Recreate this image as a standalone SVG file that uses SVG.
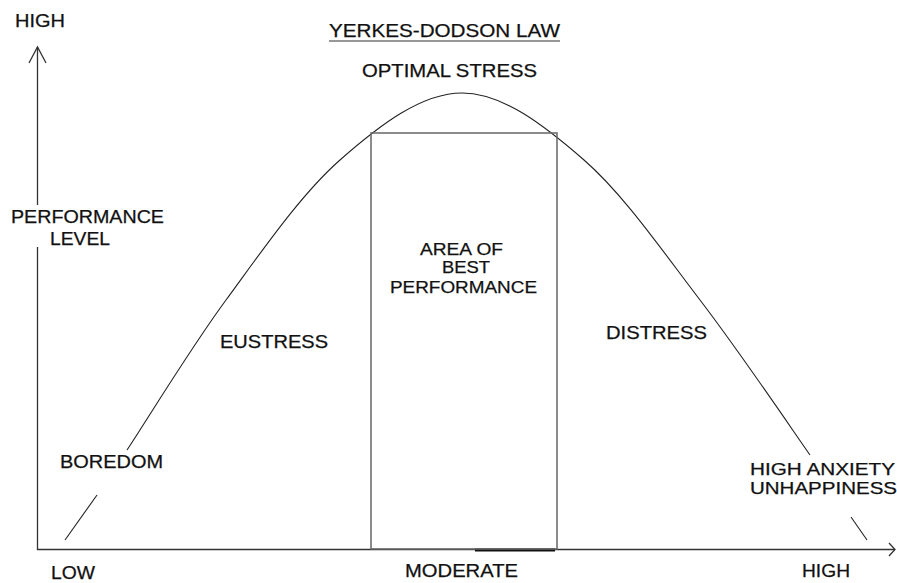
<svg xmlns="http://www.w3.org/2000/svg" width="897" height="583" viewBox="0 0 897 583">
<style>
text{font-family:"Liberation Sans",Arial,sans-serif;font-size:18px;fill:#111;stroke:#111;stroke-width:0.25}
text.s{font-size:16.5px}
.ax{stroke:#333;stroke-width:1.3;fill:none}
.cv{stroke:#222;stroke-width:1.1;fill:none}
.bx{stroke:#666;stroke-width:1.5;fill:none}
</style>
<rect width="897" height="583" fill="#fff"/>
<g id="connectors">
<path class="ax" d="M37.5,47 V205 M37.5,247 V549.5 H895"/>
<path class="ax" d="M29,63 L37.5,47 L46,63"/>
<path class="ax" d="M889,543 L895,549.5 L889,556"/>
<line x1="475" y1="550" x2="555" y2="550" stroke="#111" stroke-width="3"/>
</g>
<g id="curve">
<path class="cv" d="M65,540 L97,495"/>
<path class="cv" d="M127,450 C148.5,417.5 190.5,348.3 226,300 C261.5,251.7 300.7,194.5 340,160 C379.3,125.5 421.3,93 462,93 C502.7,93 544.3,125.5 584,160 C623.7,194.5 662.3,250.8 700,300 C737.7,349.2 784.8,418.8 810,455"/>
<path class="cv" d="M851,517 L867,540"/>
</g>
<g id="area">
<rect class="bx" x="371" y="133" width="186" height="416"/>
<text class="s" x="420" y="255" textLength="83" lengthAdjust="spacingAndGlyphs">AREA OF</text>
<text class="s" x="442" y="273" textLength="48" lengthAdjust="spacingAndGlyphs">BEST</text>
<text class="s" x="390" y="293" textLength="147" lengthAdjust="spacingAndGlyphs">PERFORMANCE</text>
</g>
<g id="title">
<text x="329" y="37" textLength="231" lengthAdjust="spacingAndGlyphs">YERKES-DODSON LAW</text>
<line x1="329" y1="41" x2="560" y2="41" stroke="#333" stroke-width="1.2"/>
</g>
<g id="optimal"><text x="362" y="77" textLength="175" lengthAdjust="spacingAndGlyphs">OPTIMAL STRESS</text></g>
<g id="y-high"><text x="15" y="27" textLength="50" lengthAdjust="spacingAndGlyphs">HIGH</text></g>
<g id="y-label">
<text x="11" y="223" textLength="153" lengthAdjust="spacingAndGlyphs">PERFORMANCE</text>
<text x="50" y="245" textLength="60" lengthAdjust="spacingAndGlyphs">LEVEL</text>
</g>
<g id="boredom"><text x="60" y="468" textLength="103" lengthAdjust="spacingAndGlyphs">BOREDOM</text></g>
<g id="eustress"><text x="220" y="348" textLength="108" lengthAdjust="spacingAndGlyphs">EUSTRESS</text></g>
<g id="distress"><text x="606" y="339" textLength="101" lengthAdjust="spacingAndGlyphs">DISTRESS</text></g>
<g id="anxiety">
<text class="s" x="750" y="475" textLength="145" lengthAdjust="spacingAndGlyphs">HIGH ANXIETY</text>
<text class="s" x="750" y="494" textLength="147" lengthAdjust="spacingAndGlyphs">UNHAPPINESS</text>
</g>
<g id="x-low"><text x="51" y="579" textLength="44" lengthAdjust="spacingAndGlyphs">LOW</text></g>
<g id="x-moderate"><text x="405" y="577" textLength="113" lengthAdjust="spacingAndGlyphs">MODERATE</text></g>
<g id="x-high"><text x="802" y="577" textLength="48" lengthAdjust="spacingAndGlyphs">HIGH</text></g>
</svg>
